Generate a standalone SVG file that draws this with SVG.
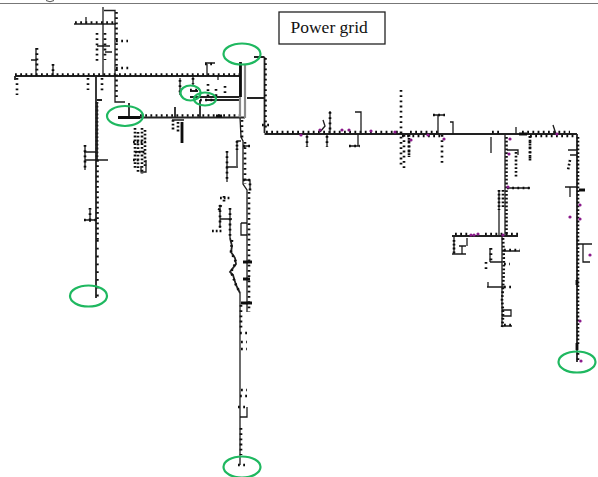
<svg xmlns="http://www.w3.org/2000/svg" width="598" height="477" viewBox="0 0 598 477">
<defs>
<filter id="soft" x="-5%" y="-5%" width="110%" height="110%"><feGaussianBlur stdDeviation="0.5"/></filter>
<style>
.l{fill:none;stroke:#1a1a1a;stroke-width:1.3}
.h{fill:none;stroke:#222;stroke-width:1.8}
.g{fill:none;stroke:#8a8a8a;stroke-width:2.2}
.d{fill:none;stroke:#111;stroke-width:2.6;stroke-dasharray:1.8 3.4}
.w{fill:none;stroke:#111;stroke-width:2.4;stroke-dasharray:1.8 6}
.s{fill:none;stroke:#111;stroke-width:2.6;stroke-dasharray:1.8 2}
.b{fill:none;stroke:#111;stroke-width:2.8}
.p{fill:#8a1a8a}
.e{fill:none;stroke:#1fb860;stroke-width:2.2}
</style>
</defs>
<rect width="598" height="477" fill="#fff"/>
<path d="M0 3.500H598" stroke="#777" stroke-width="1.200" fill="none"/>
<path d="M46 0.500Q50 3 54 0.500" stroke="#555" stroke-width="1" fill="none"/>
<g id="connectors" filter="url(#soft)">
<path class="h" d="M15 76H241M96 76V298M15 76V80"/>
<path class="l" d="M103 7V76M104 10.500H115V102H125M74 24H116M36 48V76M53 64V76M31 60H37M207 64V76M205 63H215M193 76V85M180 78V95M218 76V80"/>
<path class="d" transform="translate(0 -1.500)" d="M15 76H240M75 24H116M140 117H240"/>
<path class="d" d="M17 78V95M37 48V74M53 64V74M88 78V90M102 78V92M116.500 12V100M97 33V62M105 33V60M116 41H128M116 68H130"/>
<path class="s" d="M97 102V160"/>
<path class="d" d="M97.500 160V240"/>
<path class="w" d="M97.500 240V298"/>
<path class="h" d="M97 100H102M97 102V160"/>
<path class="l" d="M97 46H110M105 52H112M85 145V170M84 152H96M85 160H108M90 210V222M84 220H97M86 17V24"/>
<path class="d" d="M85 145V170M84 220H96M90 208V220"/>
<path class="h" d="M118 117.500H245M129 103V117M200 100V117M175 107V117"/>
<path class="b" d="M118 117.500H140M182 122V143M216 116H222"/>
<path class="s" d="M135 128V168M138 132V172M142 128V174M145 130V166M133 142H146M135 152H146M133 160H140M173 120V130M178 122V132"/>
<path class="l" d="M172 120H184M141 166V172H146V160"/>
<path class="h" d="M190 91H198M190 97H240M205 100H240M240 65V97"/>
<path class="d" d="M180 80V94M193 78V84M208 84V96M216 89V96M225 86V96M205 64H215M190 90H200M200 100H216"/>
<path class="g" d="M245 65V118M240 97V118"/>
<path class="b" d="M240.500 62V97"/>
<path class="h" d="M247 98H265M254 57H264.500M264.500 57V133"/>
<path class="d" d="M265.500 58V128M262 125H272"/>
<!-- central feeder -->
<path class="l" d="M240 117L241 137L243 141V184L247 190V312M241 141H237V166M226 167H238M227 151V182M243 146H250M243 180H250V190M220 205V228M220 219H232M230 208V238M241 223V235H247M241 223H247"/>
<path class="d" d="M242 120V138M245 142V184M249 192V312M227 151V182M243 146H250M243 180H250V192M220 205V228M230 208V238"/>
<path class="s" d="M220 198H230M221 205L218 212M212 231H222M224 196V202M237 141V150"/>
<path class="h" d="M230 238L232 246L231 252L235 258L236 264L230 272L233 275L236 285L240 293"/>
<path class="d" d="M232 240L231 252L236 262L231 272L236 285L240 293"/>
<path class="l" d="M240 293V465"/>
<path class="b" d="M243 262H252M241 303H252M243 279H250"/>
<path class="d" d="M241 305V331M241 428V455M240 333H248M241 342H247M241 349H247M241 390H247M240 396H248M238 407H247M238 465H247"/>
<path class="l" d="M247 407V417H240"/>
<!-- right feeder -->
<path class="h" d="M264.500 134H577"/>
<path class="d" transform="translate(0 -2)" d="M266 134H400M410 134H440M492 134H500M522 134H570"/>
<path class="d" transform="translate(0 2)" d="M402 134H440M530 134H576"/>
<path class="h" d="M577 134V362"/>
<path class="s" d="M578 137V345"/>
<path class="b" d="M577 343V350M577 280V285M579 190H585M519 134H527"/>
<path class="d" d="M578 353V362"/>
<path class="l" d="M330 111V134M323 120L325 126L320 132M361 112V134M355 112H361V118M307 135V147M327 135V147M358 135V146M349 146H360M438 115V134M433 115H445M450 122H453V134M491 137V153M516 127V134M553 125L556 134"/>
<path class="d" d="M330 112V132M307 136V147M327 136V147M349 146H360M401 90V168M404 135V168M409 135V157M442 135V163M433 115H445M530 136V160"/>
<path class="s" d="M409 138V156M530 136V161"/>
<path class="l" d="M505 135V236M499 190V236M507 150H518V155M507 188H530M568 150H577M570 155H577M565 187H577M570 187V197"/>
<path class="s" d="M506.500 137V236M499 190V210M503 190V208M516 152V177M570 160L568 170"/>
<path class="d" d="M507 188H531"/>
<path class="h" d="M452 236H518"/>
<path class="d" transform="translate(0 -2)" d="M455 236H470M485 236H518"/>
<path class="l" d="M454 236V254M452 254H466M462 246V254M459 246H466M467 238V246"/>
<path class="s" d="M454 240V254"/>
<path class="l" d="M502 236V327M502 262H490M490 248V262M504 287H487M488 282V287M502 310H511V316H502M502 326H512M502 251H520M577 244H592M583 244V262H590"/>
<path class="s" d="M503 238Q505 270 502 300Q504 315 502 327"/>
<path class="d" d="M504 250H520M491 248V261M504 287H512M504 325H512M486 262V270M504 264H510"/>
</g>
<g id="substations">
<circle class="p" cx="301" cy="135" r="1.600"/><circle class="p" cx="320" cy="130" r="1.600"/><circle class="p" cx="342" cy="130" r="1.600"/><circle class="p" cx="349" cy="130" r="1.600"/><circle class="p" cx="371" cy="131" r="1.600"/><circle class="p" cx="395" cy="132" r="1.600"/><circle class="p" cx="411" cy="140" r="1.600"/><circle class="p" cx="428" cy="135" r="1.600"/><circle class="p" cx="444" cy="139" r="1.600"/><circle class="p" cx="510" cy="139" r="1.600"/><circle class="p" cx="509" cy="154" r="1.600"/><circle class="p" cx="508" cy="187" r="1.600"/><circle class="p" cx="557" cy="134" r="1.600"/><circle class="p" cx="580" cy="205" r="1.600"/><circle class="p" cx="570" cy="217" r="1.600"/><circle class="p" cx="580" cy="219" r="1.600"/><circle class="p" cx="478" cy="234" r="1.600"/><circle class="p" cx="471" cy="235" r="1.600"/><circle class="p" cx="474" cy="235" r="1.600"/><circle class="p" cx="503" cy="235" r="1.600"/><circle class="p" cx="590" cy="255" r="1.600"/><circle class="p" cx="580" cy="321" r="1.600"/><circle class="p" cx="581" cy="361" r="1.600"/>
</g>
<g id="highlight-top"><ellipse class="e" cx="242" cy="54" rx="18.500" ry="10.500"/></g>
<g id="highlight-left"><ellipse class="e" cx="125" cy="116" rx="18" ry="10"/></g>
<g id="highlight-mid-a"><ellipse class="e" cx="190.500" cy="93" rx="10" ry="7.500"/></g>
<g id="highlight-mid-b"><ellipse class="e" cx="205" cy="99" rx="11" ry="6.500"/></g>
<g id="highlight-west-end"><ellipse class="e" cx="88.500" cy="296" rx="18.500" ry="10.500"/></g>
<g id="highlight-south-end"><ellipse class="e" cx="242" cy="467" rx="18.500" ry="10.500"/></g>
<g id="highlight-east-end"><ellipse class="e" cx="577" cy="362" rx="18.500" ry="10.500"/></g>
<g id="power-grid-label">
<rect x="279" y="12" width="106" height="32" fill="#fff" stroke="#222" stroke-width="1.300"/>
<text x="290.500" y="33" font-family="'Liberation Serif',serif" font-size="17.500" fill="#111">Power grid</text>
</g>
</svg>
